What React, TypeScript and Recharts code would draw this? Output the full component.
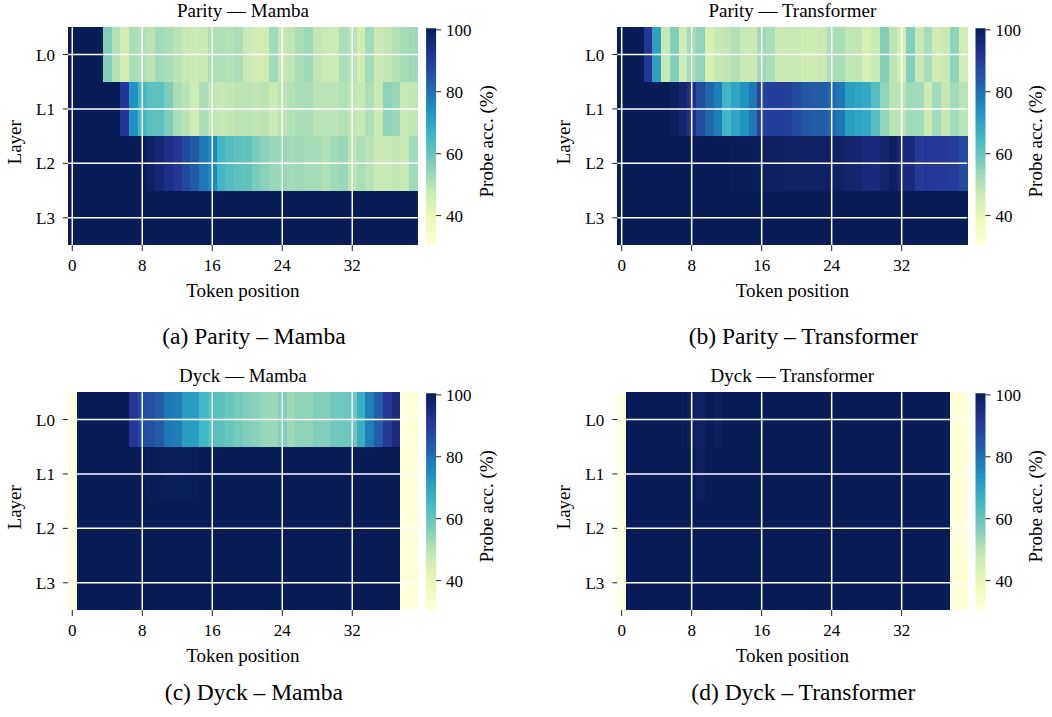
import React from 'react';
import { BarChart, Bar, XAxis, YAxis, Cell, ReferenceLine } from 'recharts';

// ---------- data ----------
const TOKENS = [0,1,2,3,4,5,6,7,8,9,10,11,12,13,14,15,16,17,18,19,20,21,22,23,24,25,26,27,28,29,30,31,32,33,34,35,36,37,38,39];
const X_TICKS = [0, 8, 16, 24, 32];
const LAYER_LABELS = ['L0', 'L1', 'L2', 'L3'];
const CBAR_TICKS = [40, 60, 80, 100];

// (a) Parity – Mamba
const parityMambaL0 = [100,100,100,100,56,50,45,51,50,49,52,51,49,47.5,46.5,47.5,50.5,50.5,50,51,47,46,45,52,47.5,48.5,51,52.5,48,47,46.5,51,49.5,45,52,47,48,50,51.5,52.5];
const parityMambaL1 = [100,100,100,100,100,100,91,73,64,61,61,56.5,51,49,46,51,48.5,47.5,48,49,49,48,49,46.5,49,50,51,51,49,49.5,49,50,48.5,47.5,50.5,47,54.5,53,47.5,48.5];
const parityMambaL2 = [100,100,100,100,100,100,100,100,100,98,96,93,91,87,83,78,75,65,62,61,60.5,57,55,53,53,52,52.5,51.5,51.5,50,52,53,49,51,49.5,47,47.5,48.5,47.5,52];
const parityMambaL3 = [100,100,100,100,100,100,100,100,100,100,100,100,100,100,100,100,100,100,100,100,100,100,100,100,100,100,100,100,100,100,100,100,100,100,100,100,100,100,100,100];

// (b) Parity – Transformer
const parityTransL0 = [100,100,100,91,70,47.5,56,46,52,54,44,47.5,48,50,47,47,52,51,47,47.5,47.5,46,46.5,47.5,51,51,48,48.5,44,47.5,56,49,45,56,47.5,51.5,46,47.5,54.5,45.5];
const parityTransL1 = [100,100,100,100,100,100,99,97,93,86,81,77,65,69,73,78,88,89,89,88.5,86.5,84,83,83,81,78,70.5,69.5,68,62,54,49.5,49,52,52,46.5,52,48,52,49];
const parityTransL2 = [100,100,100,100,100,100,100,100,100,100,100,100,100,99.5,99.5,99.5,99,98.5,98.5,98,98,98,98,98,98,98,97,97,95,94.5,97,98.5,95,94.5,90,91,90.5,90.5,89.5,86.5];
const parityTransL3 = [100,100,100,100,100,100,100,100,100,100,100,100,100,100,100,100,100,100,100,100,100,100,100,100,100,100,100,100,100,100,100,100,100,100,100,100,100,100,100,100];

// (c) Dyck – Mamba
const dyckMambaL0 = [30,100,100,100,100,100,100,91,86,85.5,83,78,77,71,71,65,62,61,59.5,57.5,56,55,53.5,53,56,52.5,54.5,54.5,56,55.5,58,58.5,59,67,77,82.5,90.5,94,30,30];
const dyckMambaL1 = [30,100,100,100,100,100,100,100,100,99.7,99.5,99.2,99.2,99.3,99.6,100,100,100,100,100,100,100,100,100,100,100,100,100,100,100,100,100,100,100,100,100,100,100,30,30];
const dyckMambaL2 = [30,100,100,100,100,100,100,100,100,100,100,100,100,100,100,100,100,100,100,100,100,100,100,100,100,100,100,100,100,100,100,100,100,100,100,100,100,100,30,30];
const dyckMambaL3 = [30,100,100,100,100,100,100,100,100,100,100,100,100,100,100,100,100,100,100,100,100,100,100,100,100,100,100,100,100,100,100,100,100,100,100,100,100,100,30,30];

// (d) Dyck – Transformer
const dyckTransL0 = [30,100,100,100,100,100,100,100,99,98,100,98.5,100,100,100,100,100,100,100,100,100,100,100,100,100,100,100,100,100,100,100,100,100,100,100,100,100,100,30,30];
const dyckTransL1 = [30,100,100,100,100,100,100,100,100,98.5,100,100,100,100,100,100,100,100,100,100,100,100,100,100,100,100,100,100,100,100,100,100,100,100,100,100,100,100,30,30];
const dyckTransL2 = [30,100,100,100,100,100,100,100,100,100,100,100,100,100,100,100,100,100,100,100,100,100,100,100,100,100,100,100,100,100,100,100,100,100,100,100,100,100,30,30];
const dyckTransL3 = [30,100,100,100,100,100,100,100,100,100,100,100,100,100,100,100,100,100,100,100,100,100,100,100,100,100,100,100,100,100,100,100,100,100,100,100,100,100,30,30];

const TITLES = ['Parity — Mamba', 'Parity — Transformer', 'Dyck — Mamba', 'Dyck — Transformer'];
const CAPTIONS = ['(a) Parity – Mamba', '(b) Parity – Transformer', '(c) Dyck – Mamba', '(d) Dyck – Transformer'];

// ---------- style / layout ----------
const FONT = '"Liberation Serif", "Times New Roman", serif';
const W = 1052;
const H = 717;
const PW = 350;
const PH = 217.7;
const PANELS = [
  { px: 67.9, py: 27.3, capY: 344, rows: [parityMambaL0, parityMambaL1, parityMambaL2, parityMambaL3] },
  { px: 617.3, py: 27.3, capY: 344, rows: [parityTransL0, parityTransL1, parityTransL2, parityTransL3] },
  { px: 67.9, py: 392.3, capY: 700, rows: [dyckMambaL0, dyckMambaL1, dyckMambaL2, dyckMambaL3] },
  { px: 617.3, py: 392.3, capY: 700, rows: [dyckTransL0, dyckTransL1, dyckTransL2, dyckTransL3] },
];

const STOPS = ['#ffffd9', '#edf8b1', '#c7e9b4', '#7fcdbb', '#41b6c4', '#1d91c0', '#225ea8', '#253494', '#081d58'];
const VMIN = 30;
const VMAX = 100;

function hexToRgb(h: string) {
  return [parseInt(h.slice(1, 3), 16), parseInt(h.slice(3, 5), 16), parseInt(h.slice(5, 7), 16)];
}
function colorFor(v: number) {
  let t = (v - VMIN) / (VMAX - VMIN);
  t = Math.max(0, Math.min(1, t));
  const s = t * (STOPS.length - 1);
  const i = Math.min(STOPS.length - 2, Math.floor(s));
  const f = s - i;
  const a = hexToRgb(STOPS[i]);
  const b = hexToRgb(STOPS[i + 1]);
  const c = a.map((x, k) => Math.round(x + (b[k] - x) * f));
  return `rgb(${c[0]},${c[1]},${c[2]})`;
}

const tickStyle = { fill: '#000', fontSize: 17, fontFamily: FONT };
const tickLineStyle = { stroke: '#222', strokeWidth: 1 };

function Heatmap({ px, py, rows }: { px: number; py: number; rows: number[][] }) {
  const data = TOKENS.map((t) => ({ pos: t, L3: 1, L2: 1, L1: 1, L0: 1 }));
  const YW = 60;
  const XH = 30;
  const stackOrder = [3, 2, 1, 0];
  return (
    <div style={{ position: 'absolute', left: 0, top: 0 }}>
      <BarChart
        width={W}
        height={H}
        data={data}
        barCategoryGap={0}
        barGap={0}
        margin={{ left: px - YW, top: py, right: W - px - PW, bottom: H - py - PH - XH }}
      >
        <XAxis
          dataKey="pos"
          type="category"
          interval={7}
          height={XH}
          axisLine={false}
          tickSize={6}
          tickMargin={8}
          tick={tickStyle}
          tickLine={tickLineStyle}
        />
        <YAxis
          type="number"
          domain={[0, 4]}
          ticks={[0.5, 1.5, 2.5, 3.5]}
          tickFormatter={(v: number) => LAYER_LABELS[Math.round(3.5 - v)]}
          width={YW}
          axisLine={false}
          tickSize={5}
          tickMargin={8}
          tick={tickStyle}
          tickLine={tickLineStyle}
        />
        {stackOrder.map((r) => (
          <Bar key={r} dataKey={LAYER_LABELS[r]} stackId="s" isAnimationActive={false}>
            {rows[r].map((v, i) => (
              <Cell key={i} fill={colorFor(v)} stroke="none" shapeRendering="crispEdges" />
            ))}
          </Bar>
        ))}
        {X_TICKS.map((t) => (
          <ReferenceLine key={'x' + t} x={t} stroke="#ffffff" strokeWidth={1.5} />
        ))}
        {[0.5, 1.5, 2.5, 3.5].map((t) => (
          <ReferenceLine key={'y' + t} y={t} stroke="#ffffff" strokeWidth={1.5} />
        ))}
      </BarChart>
    </div>
  );
}

function ColorBar({ x, y, h, id }: { x: number; y: number; h: number; id: string }) {
  const YW = 60;
  const CW = 10;
  const data = [{ name: 'cb', range: [30.5, 100.5] }];
  return (
    <div style={{ position: 'absolute', left: 0, top: 0 }}>
      <BarChart
        width={W}
        height={H}
        data={data}
        barCategoryGap={0}
        margin={{ left: x, top: y, right: W - x - CW - YW, bottom: H - y - h }}
      >
        <defs>
          <linearGradient id={id} x1="0" y1="1" x2="0" y2="0">
            {STOPS.map((c, i) => (
              <stop key={i} offset={i / (STOPS.length - 1)} stopColor={c} />
            ))}
          </linearGradient>
        </defs>
        <XAxis dataKey="name" type="category" hide />
        <YAxis
          orientation="right"
          type="number"
          domain={[30.5, 100.5]}
          ticks={CBAR_TICKS}
          width={YW}
          axisLine={false}
          tickSize={5}
          tickMargin={5}
          tick={tickStyle}
          tickLine={tickLineStyle}
        />
        <Bar dataKey="range" fill={`url(#${id})`} isAnimationActive={false} />
      </BarChart>
    </div>
  );
}

export default function App() {
  return (
    <div style={{ position: 'absolute', left: 0, top: 0, width: W, height: H, background: '#fff', overflow: 'hidden' }}>
      {PANELS.map((p, i) => (
        <Heatmap key={'h' + i} px={p.px} py={p.py} rows={p.rows} />
      ))}
      {PANELS.map((p, i) => (
        <ColorBar key={'c' + i} x={p.px + 358.2} y={p.py + 1} h={PH - 1} id={'cbgrad' + i} />
      ))}
      <svg width={W} height={H} style={{ position: 'absolute', left: 0, top: 0, pointerEvents: 'none' }} fontFamily={FONT}>
        {PANELS.map((p, i) => {
          const cx = p.px + PW / 2;
          const layerX = p.px - 47;
          const layerY = p.py + 115;
          const probeX = p.px + 425;
          const probeY = p.py + 114;
          return (
            <g key={'t' + i}>
              <text x={cx} y={p.py - 10.6} textAnchor="middle" fontSize={19} fill="#000">{TITLES[i]}</text>
              <text x={cx} y={p.py + PH + 51.7} textAnchor="middle" fontSize={19} fill="#000">Token position</text>
              <text x={cx + 11} y={p.capY} textAnchor="middle" fontSize={23.5} fill="#000">{CAPTIONS[i]}</text>
              <text x={layerX} y={layerY} textAnchor="middle" fontSize={19} fill="#000" transform={`rotate(-90 ${layerX} ${layerY})`}>Layer</text>
              <text x={probeX} y={probeY} textAnchor="middle" fontSize={19} fill="#000" transform={`rotate(-90 ${probeX} ${probeY})`}>Probe acc. (%)</text>
            </g>
          );
        })}
      </svg>
    </div>
  );
}
